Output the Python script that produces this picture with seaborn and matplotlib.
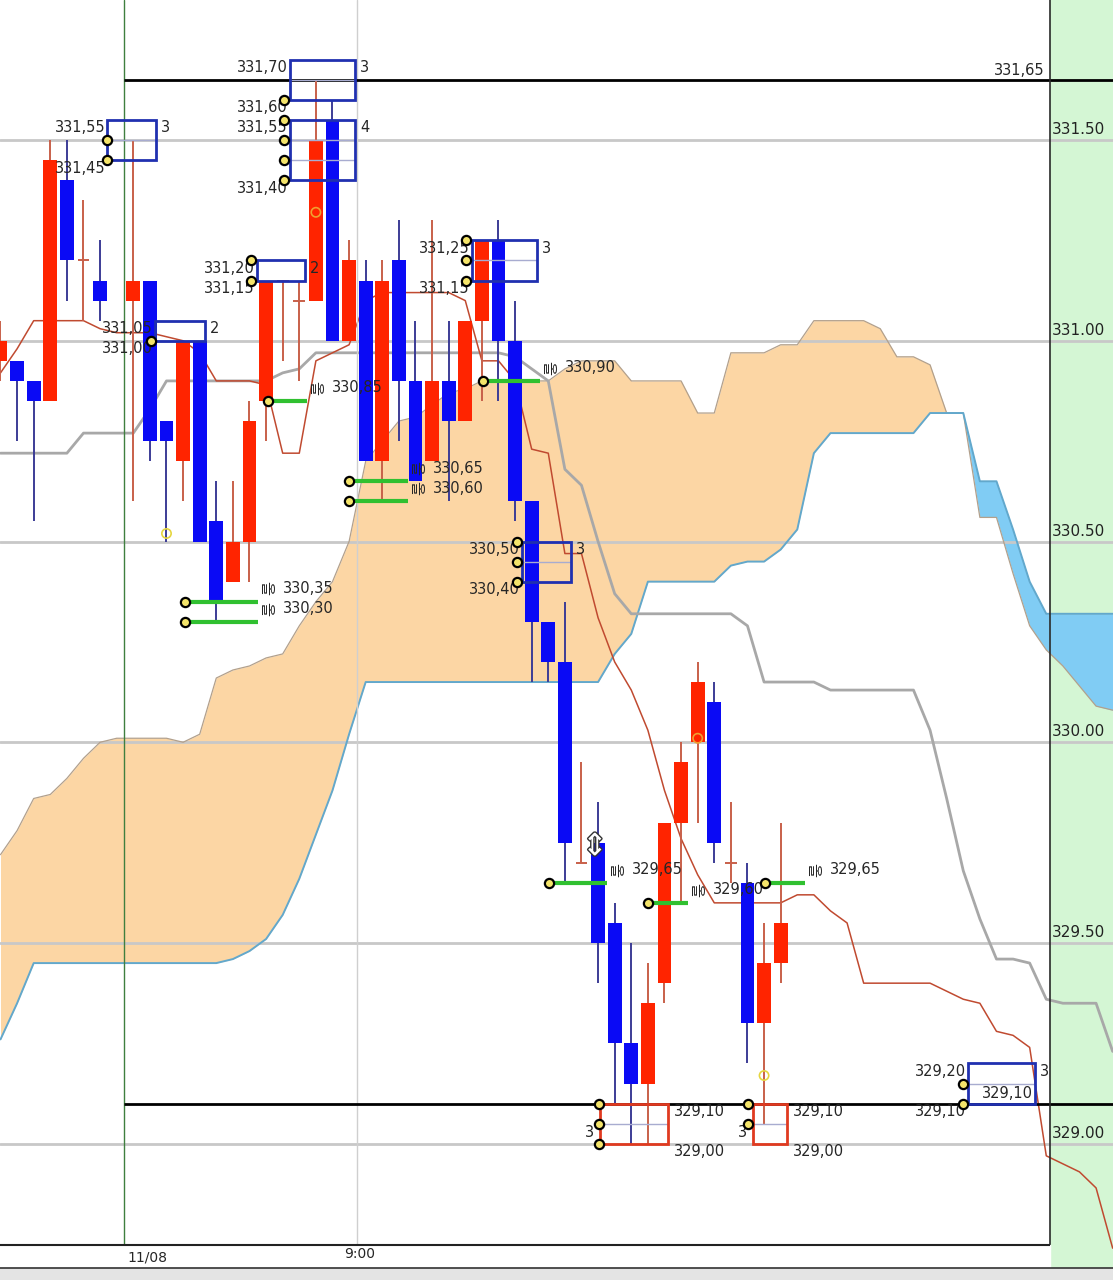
import numpy as np
import matplotlib
matplotlib.use("Agg")
import matplotlib.pyplot as plt
import matplotlib.patheffects as pe
from matplotlib.patches import Rectangle
import seaborn as sns

# ---- ichimoku lines, one value per bar (bars 0..67, last 20 are future) ----
span_a = [329.26, 329.35, 329.45, 329.45, 329.45, 329.45, 329.45, 329.45, 329.45, 329.45,
          329.45, 329.45, 329.45, 329.45, 329.46, 329.48, 329.51, 329.57, 329.66, 329.77,
          329.88, 330.02, 330.15, 330.15, 330.15, 330.15, 330.15, 330.15, 330.15, 330.15,
          330.15, 330.15, 330.15, 330.15, 330.15, 330.15, 330.15, 330.22, 330.27, 330.40,
          330.40, 330.40, 330.40, 330.40, 330.44, 330.45, 330.45, 330.48, 330.53, 330.72,
          330.77, 330.77, 330.77, 330.77, 330.77, 330.77, 330.82, 330.82, 330.82, 330.65,
          330.65, 330.53, 330.40, 330.32, 330.32, 330.32, 330.32, 330.32]
span_b = [329.72, 329.78, 329.86, 329.87, 329.91, 329.96, 330.00, 330.01, 330.01, 330.01,
          330.01, 330.00, 330.02, 330.16, 330.18, 330.19, 330.21, 330.22, 330.29, 330.35,
          330.40, 330.50, 330.70, 330.75, 330.80, 330.81, 330.84, 330.87, 330.88, 330.90,
          330.90, 330.90, 330.90, 330.90, 330.93, 330.95, 330.95, 330.95, 330.90, 330.90,
          330.90, 330.90, 330.82, 330.82, 330.97, 330.97, 330.97, 330.99, 330.99, 331.05,
          331.05, 331.05, 331.05, 331.03, 330.96, 330.96, 330.94, 330.82, 330.82, 330.56,
          330.56, 330.42, 330.29, 330.23, 330.19, 330.14, 330.09, 330.08]
base_line = [330.72, 330.72, 330.72, 330.72, 330.72, 330.77, 330.77, 330.77, 330.77, 330.83,
             330.90, 330.90, 330.90, 330.90, 330.90, 330.90, 330.90, 330.92, 330.93, 330.97,
             330.97, 330.97, 330.97, 330.97, 330.97, 330.97, 330.97, 330.97, 330.97, 330.97,
             330.97, 330.96, 330.93, 330.90, 330.68, 330.64, 330.50, 330.37, 330.32, 330.32,
             330.32, 330.32, 330.32, 330.32, 330.32, 330.29, 330.15, 330.15, 330.15, 330.15,
             330.13, 330.13, 330.13, 330.13, 330.13, 330.13, 330.03, 329.86, 329.68, 329.56,
             329.46, 329.46, 329.45, 329.36, 329.35, 329.35, 329.35, 329.23]
conv_line = [330.92, 330.98, 331.05, 331.05, 331.05, 331.05, 331.03, 331.02, 331.02, 331.02,
             331.01, 331.00, 330.97, 330.90, 330.90, 330.90, 330.89, 330.72, 330.72, 330.95,
             330.97, 330.99, 331.10, 331.12, 331.12, 331.12, 331.12, 331.12, 331.10, 330.95,
             330.95, 330.90, 330.73, 330.72, 330.47, 330.47, 330.31, 330.20, 330.13, 330.03,
             329.88, 329.76, 329.67, 329.60, 329.60, 329.60, 329.60, 329.60, 329.62, 329.62,
             329.58, 329.55, 329.40, 329.40, 329.40, 329.40, 329.40, 329.38, 329.36, 329.35,
             329.28, 329.27, 329.24, 328.97, 328.95, 328.93, 328.89, 328.74]

# ---- candles (bar 7 missing) ----
nan = np.nan
c_open = [330.95, 330.95, 330.90, 330.85, 331.40, 331.20, 331.15, nan, 331.10, 331.15,
          330.80, 330.70, 331.00, 330.55, 330.40, 330.50, 330.85, 331.15, 331.10, 331.10,
          331.55, 331.00, 331.15, 330.70, 331.20, 330.90, 330.70, 330.90, 330.80, 331.05,
          331.25, 331.00, 330.60, 330.30, 330.20, 329.70, 329.75, 329.55, 329.25, 329.15,
          329.40, 329.80, 330.00, 330.10, 329.70, 329.65, 329.30, 329.45]
c_high = [331.05, 330.95, 330.90, 331.50, 331.50, 331.35, 331.25, nan, 331.50, 331.15,
          330.80, 331.00, 331.00, 330.65, 330.65, 330.85, 331.15, 331.15, 331.15, 331.65,
          331.60, 331.25, 331.20, 331.20, 331.30, 331.05, 331.30, 331.05, 331.05, 331.25,
          331.30, 331.10, 330.60, 330.30, 330.35, 329.95, 329.85, 329.60, 329.50, 329.45,
          329.80, 330.00, 330.20, 330.15, 329.85, 329.70, 329.55, 329.80]
c_low = [330.90, 330.75, 330.55, 330.85, 331.10, 331.05, 331.05, nan, 330.60, 330.70,
         330.50, 330.60, 330.50, 330.30, 330.40, 330.40, 330.75, 330.95, 330.90, 331.10,
         331.00, 331.00, 330.70, 330.60, 330.75, 330.65, 330.70, 330.60, 330.80, 330.85,
         330.85, 330.55, 330.15, 330.15, 329.65, 329.70, 329.40, 329.10, 329.00, 329.00,
         329.35, 329.60, 329.80, 329.70, 329.65, 329.20, 329.05, 329.40]
c_close = [331.00, 330.90, 330.85, 331.45, 331.20, 331.20, 331.10, nan, 331.15, 330.75,
           330.75, 331.00, 330.50, 330.35, 330.50, 330.80, 331.15, 331.15, 331.10, 331.50,
           331.00, 331.20, 330.70, 331.15, 330.90, 330.65, 330.90, 330.80, 331.05, 331.25,
           331.00, 330.60, 330.30, 330.20, 329.75, 329.70, 329.50, 329.25, 329.15, 329.35,
           329.80, 329.95, 330.15, 329.75, 329.70, 329.30, 329.45, 329.55]

# ---- price-count boxes ----
box_left = [6.42, 17.44, 17.44, 15.45, 9.31, 28.40, 31.42, 36.10, 45.33, 58.28]
box_right = [9.37, 21.36, 21.36, 18.34, 12.32, 32.32, 34.37, 40.20, 47.38, 62.32]
box_low = [331.45, 331.60, 331.40, 331.15, 331.00, 331.15, 330.40, 329.00, 329.00, 329.10]
box_high = [331.55, 331.70, 331.55, 331.20, 331.05, 331.25, 330.50, 329.10, 329.10, 329.20]
box_count = ['3', '3', '4', '2', '2', '3', '3', '3', '3', '3']
box_side = ['b', 'b', 'b', 'b', 'b', 'b', 'b', 'r', 'r', 'b']
box_labels = [['331,55', '331,45'], ['331,70'], ['331,60', '331,55', '331,40'],
              ['331,20', '331,15'], ['331,05', '331,00'], ['331,25', '331,15'],
              ['330,50', '330,40'], ['329,10', '329,00'], ['329,10', '329,00'],
              ['329,20', '329,10']]
box_label_p = [[331.55, 331.45], [331.70], [331.60, 331.55, 331.40], [331.20, 331.15],
               [331.05, 331.00], [331.25, 331.15], [330.50, 330.40], [329.10, 329.00],
               [329.10, 329.00], [329.20, 329.10]]
dot_x = [6.42, 6.42, 17.1, 17.1, 17.1, 17.1, 17.1, 15.1, 15.1, 9.05, 28.05, 28.05, 28.05,
         31.1, 31.1, 31.1, 36.05, 36.05, 36.05, 45.05, 45.05, 58.0, 58.0]
dot_y = [331.50, 331.45, 331.60, 331.55, 331.50, 331.45, 331.40, 331.20, 331.15, 331.00,
         331.25, 331.20, 331.15, 330.50, 330.45, 330.40, 329.10, 329.05, 329.00, 329.10,
         329.05, 329.15, 329.10]

# ---- green level lines ----
lvl_x0 = [11.11, 11.11, 16.11, 20.99, 20.99, 29.07, 33.04, 39.00, 46.05]
lvl_x1 = [15.51, 15.51, 18.46, 24.55, 24.55, 32.50, 36.54, 41.42, 48.46]
lvl_p = [330.35, 330.30, 330.85, 330.65, 330.60, 330.90, 329.65, 329.60, 329.65]
lvl_txt = ['330,35', '330,30', '330,85', '330,65', '330,60', '330,90', '329,65', '329,60', '329,65']

axis_p = [331.50, 331.00, 330.50, 330.00, 329.50, 329.00]
axis_txt = ['331.50', '331.00', '330.50', '330.00', '329.50', '329.00']

RED, BLUE = '#ff2400', '#0a0af5'
RED_W, BLUE_W = '#c8604a', '#3c3c96'

sns.set_theme(style='white')
plt.rcParams['font.family'] = ['DejaVu Sans', 'Noto Sans CJK KR']

fig = plt.figure(figsize=(11.13, 12.8), dpi=100)
ax = fig.add_axes([0, 0, 1, 1])
XMAX = 67.02
ax.set_xlim(-0.03, XMAX)
ax.set_ylim(328.6607, 331.8487)
ax.axis('off')

# right price strip background
AX_X = 63.22
ax.axvspan(AX_X, XMAX, color='#d4f6d4', zorder=0)

# cloud
idx = np.arange(len(span_a))
sa, sb = np.array(span_a), np.array(span_b)
ax.fill_between(idx, sa, sb, where=sb >= sa, interpolate=True, color='#fcd6a4', lw=0, zorder=1)
ax.fill_between(idx, sa, sb, where=sa > sb, interpolate=True, color='#80ccf4', lw=0, zorder=1)

for p in axis_p:
    ax.axhline(p, color='#c8c8c8', lw=2, zorder=1.5)

sns.lineplot(x=idx, y=sb, ax=ax, color='#b2a08c', lw=0.9, zorder=2, estimator=None, sort=False)
sns.lineplot(x=idx, y=sa, ax=ax, color='#62a8cc', lw=1.4, zorder=2.1, estimator=None, sort=False)
sns.lineplot(x=idx, y=base_line, ax=ax, color='#a8a8a8', lw=2, zorder=2.2, estimator=None, sort=False)
sns.lineplot(x=idx, y=conv_line, ax=ax, color='#c04a30', lw=1.1, zorder=2.3, estimator=None, sort=False)

# time lines and key levels
ax.axvline(7.44, color='#3f7f3f', lw=1, zorder=2.4)
ax.axvline(21.48, color='#cfcfcf', lw=1, zorder=2.4)
ax.hlines([331.65, 329.10], 7.44, XMAX, color='black', lw=2, zorder=3)

# candles
o, h, l, c = map(np.array, (c_open, c_high, c_low, c_close))
cx = np.arange(len(o))
ok = ~np.isnan(o)
up = (c > o) | (c == o)
ax.vlines(cx[ok & up], l[ok & up], h[ok & up], color=RED_W, lw=1.4, zorder=3.5)
ax.vlines(cx[ok & ~up], l[ok & ~up], h[ok & ~up], color=BLUE_W, lw=1.4, zorder=3.5)
body = ok & (c != o)
ax.bar(cx[body], np.abs(c - o)[body], bottom=np.minimum(o, c)[body], width=0.84,
       color=np.where(c > o, RED, BLUE)[body], lw=0, zorder=4)
doji = ok & (c == o)
ax.hlines(o[doji], cx[doji] - 0.35, cx[doji] + 0.35, color=RED_W, lw=1.4, zorder=4)

# boxes
for i in range(len(box_left)):
    ec = '#2030b0' if box_side[i] == 'b' else '#e03a20'
    ax.add_patch(Rectangle((box_left[i], box_low[i]), box_right[i] - box_left[i],
                           box_high[i] - box_low[i], fill=False, ec=ec, lw=2, zorder=6))
    lv = np.arange(box_low[i] + 0.05, box_high[i] - 0.01, 0.05)
    ax.hlines(lv, box_left[i], box_right[i], color='#a8acd0', lw=1, zorder=5.9)
    if box_side[i] == 'b':
        for t, p in zip(box_labels[i], box_label_p[i]):
            ax.text(box_left[i] - 0.12, p - 0.02, t, ha='right', va='center', fontsize=10.5, zorder=7)
        ax.text(box_right[i] + 0.3, box_high[i] - 0.02, box_count[i], ha='left', va='center',
                fontsize=10.5, zorder=7)
    else:
        for t, p in zip(box_labels[i], box_label_p[i]):
            ax.text(box_right[i] + 0.35, p - 0.02, t, ha='left', va='center', fontsize=10.5, zorder=7)
        ax.text(box_left[i] - 0.35, box_low[i] + 0.027, box_count[i], ha='right', va='center',
                fontsize=10.5, zorder=7)
ax.text(box_right[-1] - 0.1, 329.125, '329,10', ha='right', va='center', fontsize=10.5, zorder=7)

# green level lines
ax.hlines(lvl_p, lvl_x0, lvl_x1, color='#30c030', lw=3, zorder=5)
for x0, x1, p, t in zip(lvl_x0, lvl_x1, lvl_p, lvl_txt):
    ax.text(x1 + 0.45, p + 0.033, '올', rotation=-90, ha='center', va='center', fontsize=11,
            family=['Noto Sans CJK KR', 'DejaVu Sans'], zorder=7)
    ax.text(x1 + 1.5, p + 0.033, t, ha='left', va='center', fontsize=10.5, zorder=7)
ax.scatter(lvl_x0 + dot_x, lvl_p + dot_y, s=44, marker='o', c='#f4e46a', edgecolors='black',
           linewidths=1.6, zorder=8)

# small markers
ax.scatter([19, 42], [331.32, 330.01], s=45, facecolors='none', edgecolors='#f0a030', lw=1.2, zorder=8)
ax.scatter([10, 46], [330.52, 329.17], s=45, facecolors='none', edgecolors='#e6d640', lw=1.2, zorder=8)
ax.text(35.8, 329.74, '⇕', ha='center', va='center', fontsize=22, color='white', zorder=8,
        path_effects=[pe.withStroke(linewidth=2, foreground='#333333')])

# right price axis
ax.axvline(AX_X, ymin=(328.748 - 328.6607) / 3.188, color='#2a2a2a', lw=1.2, zorder=9)
for p, t in zip(axis_p, axis_txt):
    ax.text(AX_X + 0.12, p + 0.026, t, ha='left', va='center', fontsize=11, color='#222222', zorder=9)
ax.text(62.92, 331.674, '331,65', ha='right', va='center', fontsize=10.5, zorder=9)

# bottom time axis
ax.add_patch(Rectangle((-0.03, 328.6607), AX_X + 0.03, 328.748 - 328.6607, color='white', zorder=9))
ax.hlines(328.748, -0.03, AX_X, color='#222222', lw=1.5, zorder=10)
ax.add_patch(Rectangle((-0.03, 328.6607), XMAX + 0.03, 0.029, color='#e4e4e4', zorder=10))
ax.hlines(328.690, -0.03, XMAX, color='#333333', lw=1.2, zorder=10)
ax.text(8.83, 328.716, '11/08', ha='center', va='center', fontsize=10, zorder=11)
ax.text(21.66, 328.726, '9:00', ha='center', va='center', fontsize=10, zorder=11)

fig.savefig('out.png', dpi=100)
